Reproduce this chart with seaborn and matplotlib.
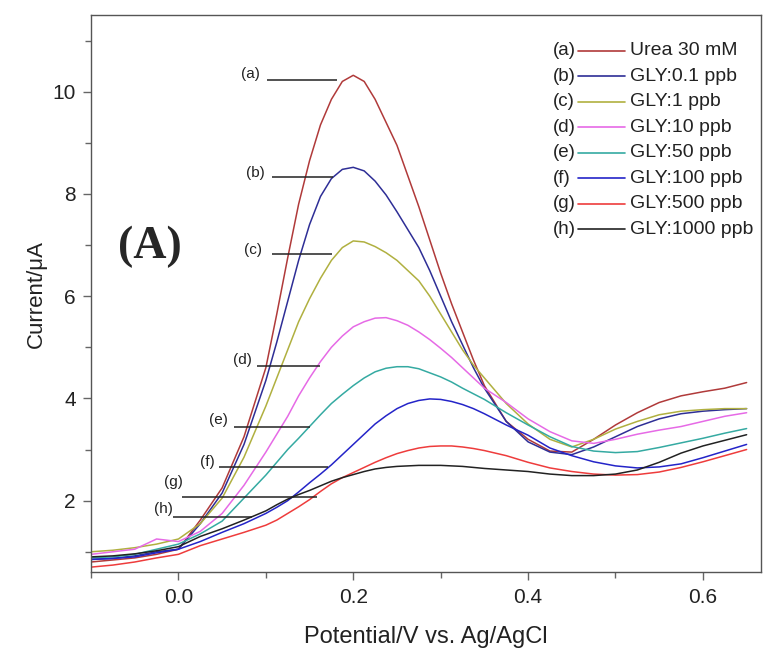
import numpy as np
import pandas as pd
import seaborn as sns
import matplotlib.pyplot as plt
from matplotlib.ticker import MultipleLocator

# potential axis (V vs Ag/AgCl), denser around the peaks
potential = [-0.1, -0.075, -0.05, -0.025, 0.0, 0.025, 0.05, 0.075,
             0.1, 0.1125, 0.125, 0.1375, 0.15, 0.1625, 0.175, 0.1875,
             0.2, 0.2125, 0.225, 0.2375, 0.25, 0.2625, 0.275, 0.2875,
             0.3, 0.3125, 0.325, 0.3375, 0.35, 0.375, 0.4, 0.425,
             0.45, 0.475, 0.5, 0.525, 0.55, 0.575, 0.6, 0.625, 0.65]

# current (uA)
urea_30mM = [0.80, 0.84, 0.88, 0.95, 1.05, 1.62, 2.25, 3.25,
             4.60, 5.65, 6.75, 7.80, 8.65, 9.35, 9.85, 10.20,
             10.32, 10.20, 9.85, 9.40, 8.95, 8.35, 7.75, 7.10,
             6.45, 5.85, 5.30, 4.75, 4.25, 3.55, 3.20, 2.97,
             2.95, 3.20, 3.48, 3.72, 3.92, 4.05, 4.13, 4.20, 4.31]
gly_0_1 = [0.85, 0.87, 0.92, 1.00, 1.05, 1.55, 2.15, 3.10,
           4.35, 5.10, 5.90, 6.70, 7.40, 7.95, 8.30, 8.48,
           8.52, 8.45, 8.25, 7.98, 7.65, 7.30, 6.95, 6.50,
           6.00, 5.50, 5.05, 4.60, 4.20, 3.55, 3.15, 2.95,
           2.90, 3.05, 3.25, 3.45, 3.60, 3.70, 3.75, 3.78, 3.80]
gly_1 = [1.00, 1.03, 1.08, 1.15, 1.25, 1.55, 2.05, 2.85,
         3.85, 4.40, 4.95, 5.50, 5.95, 6.35, 6.70, 6.95,
         7.08, 7.06, 6.97, 6.85, 6.70, 6.50, 6.30, 6.00,
         5.65, 5.30, 4.95, 4.65, 4.40, 3.90, 3.50, 3.20,
         3.05, 3.20, 3.40, 3.55, 3.68, 3.75, 3.78, 3.80, 3.80]
gly_10 = [0.95, 1.00, 1.05, 1.25, 1.20, 1.40, 1.75, 2.30,
          2.95, 3.30, 3.65, 4.05, 4.40, 4.72, 5.00, 5.22,
          5.40, 5.50, 5.57, 5.58, 5.52, 5.43, 5.30, 5.15,
          4.98, 4.80, 4.60, 4.40, 4.20, 3.92, 3.60, 3.35,
          3.17, 3.12, 3.20, 3.30, 3.38, 3.45, 3.55, 3.65, 3.72]
gly_50 = [0.88, 0.90, 0.95, 1.05, 1.15, 1.35, 1.60, 2.05,
          2.50, 2.75, 3.00, 3.22, 3.45, 3.68, 3.90, 4.08,
          4.25, 4.40, 4.52, 4.59, 4.62, 4.62, 4.58, 4.50,
          4.42, 4.32, 4.20, 4.09, 3.98, 3.72, 3.48, 3.25,
          3.06, 2.97, 2.94, 2.96, 3.04, 3.13, 3.22, 3.32, 3.41]
gly_100 = [0.85, 0.87, 0.90, 0.98, 1.05, 1.20, 1.38, 1.55,
           1.75, 1.87, 2.00, 2.17, 2.35, 2.52, 2.70, 2.90,
           3.10, 3.30, 3.50, 3.66, 3.80, 3.90, 3.96, 3.99,
           3.98, 3.94, 3.88, 3.80, 3.70, 3.48, 3.28, 3.03,
           2.88, 2.76, 2.68, 2.64, 2.66, 2.72, 2.84, 2.97, 3.10]
gly_500 = [0.70, 0.74, 0.80, 0.88, 0.95, 1.12, 1.25, 1.38,
           1.52, 1.62, 1.75, 1.88, 2.02, 2.18, 2.33, 2.45,
           2.55, 2.65, 2.75, 2.84, 2.92, 2.98, 3.03, 3.06,
           3.07, 3.07, 3.05, 3.02, 2.98, 2.88, 2.75, 2.64,
           2.57, 2.52, 2.50, 2.51, 2.56, 2.65, 2.76, 2.88, 3.00]
gly_1000 = [0.90, 0.92, 0.96, 1.02, 1.10, 1.30, 1.45, 1.62,
            1.80, 1.92, 2.03, 2.12, 2.20, 2.29, 2.38, 2.45,
            2.51, 2.57, 2.62, 2.65, 2.67, 2.68, 2.69, 2.69,
            2.69, 2.68, 2.67, 2.65, 2.63, 2.60, 2.57, 2.52,
            2.49, 2.49, 2.52, 2.60, 2.75, 2.93, 3.07, 3.18, 3.29]

tags = ["(a)", "(b)", "(c)", "(d)", "(e)", "(f)", "(g)", "(h)"]
names = ["Urea 30 mM", "GLY:0.1 ppb", "GLY:1 ppb", "GLY:10 ppb",
         "GLY:50 ppb", "GLY:100 ppb", "GLY:500 ppb", "GLY:1000 ppb"]
series = [urea_30mM, gly_0_1, gly_1, gly_10, gly_50, gly_100, gly_500, gly_1000]
colors = ["#b03a3a", "#2e2e96", "#b0b040", "#e66ae6",
          "#35aaa2", "#2424c8", "#ee3c3c", "#222222"]

# leader lines for the (a)-(h) labels: start x, end x, y
lead_x0 = [0.101, 0.107, 0.107, 0.090, 0.063, 0.046, 0.004, -0.006]
lead_x1 = [0.181, 0.177, 0.176, 0.162, 0.150, 0.171, 0.158, 0.084]
lead_y = [10.22, 8.33, 6.82, 4.63, 3.45, 2.65, 2.08, 1.69]
tag_x = [0.093, 0.099, 0.096, 0.084, 0.056, 0.042, 0.005, -0.006]
tag_y = [10.35, 8.41, 6.90, 4.76, 3.57, 2.75, 2.37, 1.84]

df = pd.DataFrame({
    "potential": np.tile(potential, len(series)),
    "current": np.concatenate(series),
    "name": np.repeat(names, len(potential)),
})

sns.set_style("ticks")
plt.rcParams["font.family"] = ["Liberation Sans", "DejaVu Sans"]

fig, ax = plt.subplots(figsize=(7.63, 6.51), dpi=100)
fig.subplots_adjust(left=0.1193, right=0.998, top=0.977, bottom=0.121)

sns.lineplot(data=df, x="potential", y="current", hue="name",
             palette=dict(zip(names, colors)), lw=1.1, legend=False, ax=ax)

ax.set_xlim(-0.1, 0.667)
ax.set_ylim(0.6, 11.5)
ax.xaxis.set_minor_locator(MultipleLocator(0.1))
ax.yaxis.set_minor_locator(MultipleLocator(1))
ax.set_xticks([0.0, 0.2, 0.4, 0.6])
ax.set_xticklabels(["0.0", "0.2", "0.4", "0.6"])
ax.set_yticks([2, 4, 6, 8, 10])
ax.tick_params(which="major", length=6, width=1, color="#666666",
               labelsize=15, labelcolor="#222222", pad=5)
ax.tick_params(which="minor", length=4, width=1, color="#666666")
for s in ax.spines.values():
    s.set_color("#555555")
    s.set_linewidth(1)

ax.set_xlabel("Potential/V vs. Ag/AgCl", fontsize=17, color="#222222", labelpad=14)
ax.set_ylabel("Current/\u03bcA", fontsize=16, color="#222222", labelpad=4)

# leader lines and tags
ax.hlines(lead_y, lead_x0, lead_x1, colors="#222222", lw=1.1)
for t, x, y in zip(tags, tag_x, tag_y):
    ax.text(x, y, t, ha="right", va="center", fontsize=11, color="#222222")

# legend drawn as in the original: tag, short line, label
for i, (t, n, c) in enumerate(zip(tags, names, colors)):
    yy = 0.936 - 0.0458 * i
    ax.text(0.6885, yy, t, transform=ax.transAxes, ha="left", va="center",
            fontsize=13.5, color="#222222")
    ax.plot([0.7258, 0.7958], [yy, yy], transform=ax.transAxes, color=c, lw=1.2)
    ax.text(0.8033, yy, n, transform=ax.transAxes, ha="left", va="center",
            fontsize=14, color="#222222")

ax.text(0.088, 0.583, "(A)", transform=ax.transAxes, ha="center", va="center",
        fontsize=33, fontweight="bold", family=["Liberation Serif", "DejaVu Serif"])

fig.savefig("out.png", dpi=100)
